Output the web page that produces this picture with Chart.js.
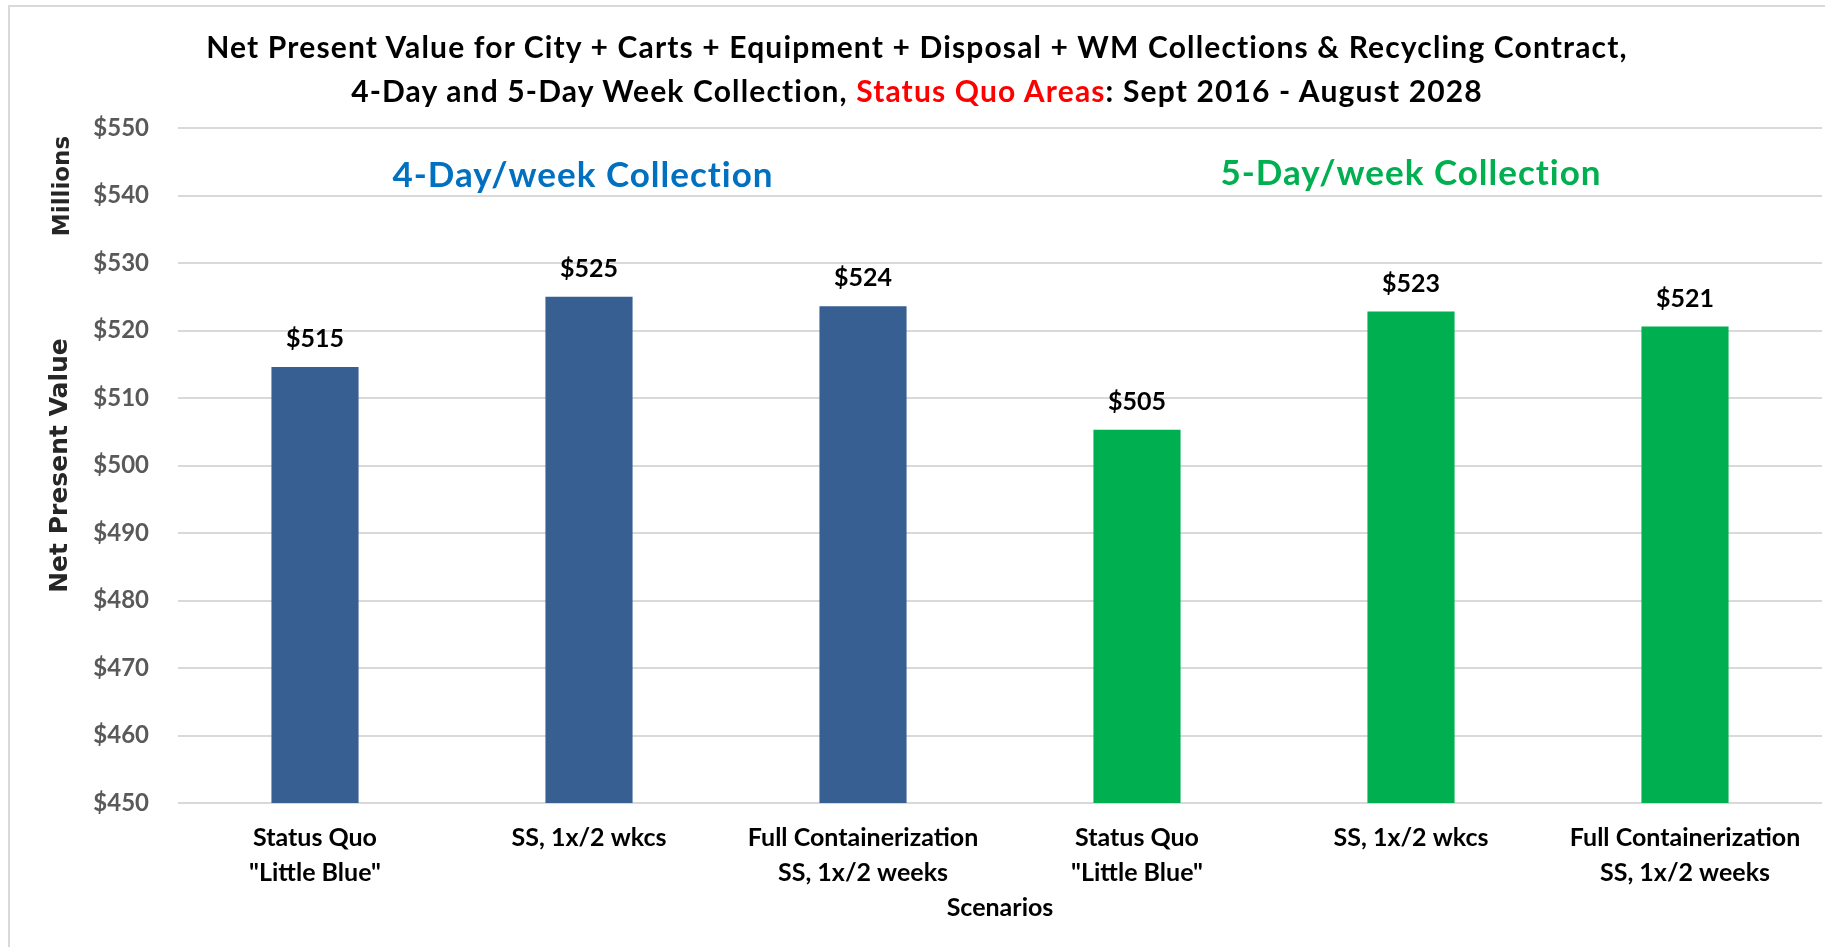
<!DOCTYPE html>
<html><head><meta charset="utf-8">
<script src="https://cdn.jsdelivr.net/npm/chart.js@4.4.1/dist/chart.umd.min.js"></script>
<style>
html,body{margin:0;padding:0;background:#fff;}
#wrap{position:relative;width:1825px;height:947px;overflow:hidden;background:#fff;}
#frame{position:absolute;left:8px;top:5px;width:1830px;height:960px;border-left:2px solid #d9d9d9;border-top:2px solid #d9d9d9;box-sizing:border-box;}
#c{position:absolute;left:0;top:0;}
#title{position:absolute;left:0;top:24px;width:1834px;text-align:center;font-family:Lato,"Open Sans",sans-serif;font-weight:bold;font-size:30px;letter-spacing:1.15px;line-height:44px;color:#000;}
.red{color:#ff0000;}
</style></head>
<body>
<div id="wrap">
<div id="frame"></div>
<canvas id="c" width="1825" height="947"></canvas>
<div id="title">Net Present Value for City + Carts + Equipment + Disposal + WM Collections &amp; Recycling Contract,<br>4-Day and 5-Day Week Collection, <span class="red">Status Quo Areas</span>: Sept 2016 - August 2028</div>
</div>
<script>
const categories = [
  ["Status Quo", "\"Little Blue\""],
  "SS, 1x/2 wkcs",
  ["Full Containerization", "SS, 1x/2 weeks"],
  ["Status Quo", "\"Little Blue\""],
  "SS, 1x/2 wkcs",
  ["Full Containerization", "SS, 1x/2 weeks"]
];
const npv4Day = [514.6, 525.0, 523.6, null, null, null];
const npv5Day = [null, null, null, 505.3, 522.8, 520.6];
const groupLabels = ["4-Day/week Collection", "5-Day/week Collection"];
const groupCenters = [1, 4];
const yMin = 450, yMax = 550, yStep = 10;

const groupColors = ["#0070C0", "#00B050"];

const dataLabelPlugin = {
  id: 'dataLabels',
  afterDatasetsDraw(chart) {
    const ctx = chart.ctx;
    ctx.save();
    ctx.font = 'bold 25px Lato, sans-serif';
    ctx.fillStyle = '#000';
    ctx.textAlign = 'center';
    ctx.textBaseline = 'middle';
    chart.data.datasets.forEach((ds, di) => {
      const meta = chart.getDatasetMeta(di);
      meta.data.forEach((el, i) => {
        const v = ds.data[i];
        if (v === null || v === undefined) return;
        ctx.fillText('$' + Math.round(v), el.x, el.y - 28);
      });
    });
    ctx.restore();
  }
};

const extrasPlugin = {
  id: 'extras',
  afterDraw(chart) {
    const ctx = chart.ctx;
    const xs = chart.scales.x, ys = chart.scales.y;
    ctx.save();
    ctx.font = 'bold 35px Lato, sans-serif';
    try { ctx.letterSpacing = '1px'; } catch (e) {}
    ctx.textAlign = 'center';
    ctx.textBaseline = 'middle';
    groupLabels.forEach((t, i) => {
      ctx.fillStyle = groupColors[i];
      ctx.fillText(t, xs.getPixelForValue(groupCenters[i]) - (i === 0 ? 6 : 0), ys.getPixelForValue(542.9 + i * 0.3));
    });
    try { ctx.letterSpacing = '0px'; } catch (e) {}
    ctx.translate(63, 186);
    ctx.rotate(-Math.PI / 2);
    ctx.font = 'bold 23px "DejaVu Sans", sans-serif';
    ctx.fillStyle = '#262626';
    ctx.fillText('Millions', 0, 0);
    ctx.restore();
  }
};

new Chart(document.getElementById('c'), {
  type: 'bar',
  data: {
    labels: categories,
    datasets: [
      { label: '4-Day/week', data: npv4Day, backgroundColor: '#375F91', grouped: false,
        categoryPercentage: 1, barPercentage: 0.318 },
      { label: '5-Day/week', data: npv5Day, backgroundColor: '#00B050', grouped: false,
        categoryPercentage: 1, barPercentage: 0.318 }
    ]
  },
  options: {
    responsive: false,
    animation: false,
    devicePixelRatio: 1,
    layout: { padding: { top: 128, left: 0, right: 3, bottom: 0 } },
    plugins: { legend: { display: false }, tooltip: { enabled: false }, title: { display: false } },
    scales: {
      x: {
        grid: { display: false, drawTicks: false },
        border: { display: false },
        ticks: { color: '#000', font: { family: 'Lato', weight: 'bold', size: 25, lineHeight: 1.4 }, padding: 17, maxRotation: 0, autoSkip: false },
        title: { display: true, text: 'Scenarios', color: '#000', font: { family: 'Lato', weight: 'bold', size: 25, lineHeight: 1.2 }, padding: { top: 0, bottom: 24 } },
        afterFit(s) { s.height = 144; }
      },
      y: {
        min: yMin, max: yMax,
        grid: { color: '#d9d9d9', lineWidth: 2, drawTicks: false },
        border: { display: false },
        ticks: { stepSize: yStep, color: '#595959', font: { family: 'Lato', weight: 'bold', size: 24 }, padding: 29,
          callback: v => '$' + v },
        title: { display: true, text: 'Net Present Value', color: '#262626', font: { family: 'DejaVu Sans', weight: 'bold', size: 25, lineHeight: 1.2 }, padding: { top: 45, bottom: 0 } },
        afterFit(s) { s.width = 178; }
      }
    }
  },
  plugins: [dataLabelPlugin, extrasPlugin]
});
</script>
</body></html>
